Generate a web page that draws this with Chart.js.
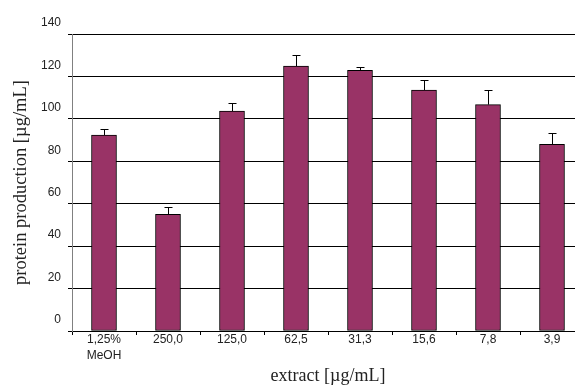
<!DOCTYPE html>
<html>
<head>
<meta charset="utf-8">
<script src="https://cdn.jsdelivr.net/npm/chart.js@4"></script>
<style>
  html, body { margin: 0; padding: 0; background: #fff; overflow: hidden; }
  #wrap { width: 590px; height: 387px; }
</style>
</head>
<body>
<div id="wrap"><canvas id="c" width="590" height="387"></canvas></div>
<script>
// Protein production per extract concentration, mean and upper error
const categories = [['1,25%', 'MeOH'], '250,0', '125,0', '62,5', '31,3', '15,6', '7,8', '3,9'];
const meanValues = [92.4, 55.0, 103.7, 124.9, 122.9, 113.6, 106.7, 88.0];
const errorValues = [2.7, 3.3, 3.6, 5.1, 1.7, 4.9, 7.0, 5.5];
const yTicks = [0, 20, 40, 60, 80, 100, 120, 140];

const barColor = '#993366';

// Upward-only error bars with a short cap
const errorBars = {
  id: 'errorBars',
  afterDatasetsDraw(chart) {
    const { ctx, scales: { x, y } } = chart;
    ctx.save();
    ctx.strokeStyle = '#000';
    ctx.lineWidth = 1;
    meanValues.forEach((v, i) => {
      const px = Math.round(x.getPixelForValue(i)) + 0.5;
      const y0 = y.getPixelForValue(v);
      const y1 = Math.round(y.getPixelForValue(v + errorValues[i])) + 0.5;
      ctx.beginPath();
      ctx.moveTo(px, y0);
      ctx.lineTo(px, y1);
      ctx.moveTo(px - 4, y1);
      ctx.lineTo(px + 4, y1);
      ctx.stroke();
    });
    ctx.restore();
  }
};

new Chart(document.getElementById('c'), {
  type: 'bar',
  data: {
    labels: categories,
    datasets: [{
      data: meanValues,
      backgroundColor: barColor,
      borderColor: '#000',
      borderWidth: 1,
      borderSkipped: false,
      barThickness: 25
    }]
  },
  options: {
    responsive: false,
    animation: false,
    devicePixelRatio: 1,
    layout: { padding: { top: 34, right: 6, bottom: 0, left: 0 } },
    plugins: { legend: { display: false }, tooltip: { enabled: false } },
    scales: {
      x: {
        grid: { display: true, drawOnChartArea: false, offset: true, color: '#000', tickLength: 4, tickColor: '#000' },
        border: { display: true, color: '#000', width: 1 },
        ticks: {
          color: '#222',
          font: { family: 'Liberation Sans, Arial, sans-serif', size: 12, lineHeight: 1.3 },
          padding: -3,
          maxRotation: 0,
          autoSkip: false
        },
        title: {
          display: true,
          text: 'extract [µg/mL]',
          color: '#222',
          font: { family: 'Liberation Serif, Times New Roman, serif', size: 18 },
          padding: { top: 0, bottom: 0 }
        },
        afterFit(scale) { scale.height = 56; }
      },
      y: {
        min: 0,
        max: 140,
        afterBuildTicks(scale) { scale.ticks = yTicks.map(v => ({ value: v })); },
        grid: { color: '#000', lineWidth: 1, tickLength: 4, tickColor: '#000' },
        border: { display: true, color: '#808080', width: 1 },
        ticks: {
          color: '#222',
          font: { family: 'Liberation Sans, Arial, sans-serif', size: 12 },
          padding: 7,
          labelOffset: -11
        },
        title: {
          display: true,
          text: 'protein production [µg/mL]',
          color: '#222',
          font: { family: 'Liberation Serif, Times New Roman, serif', size: 18.5 },
          padding: { top: 10, bottom: 0 }
        },
        afterFit(scale) { scale.width = 72; }
      }
    }
  },
  plugins: [errorBars]
});
</script>
</body>
</html>
